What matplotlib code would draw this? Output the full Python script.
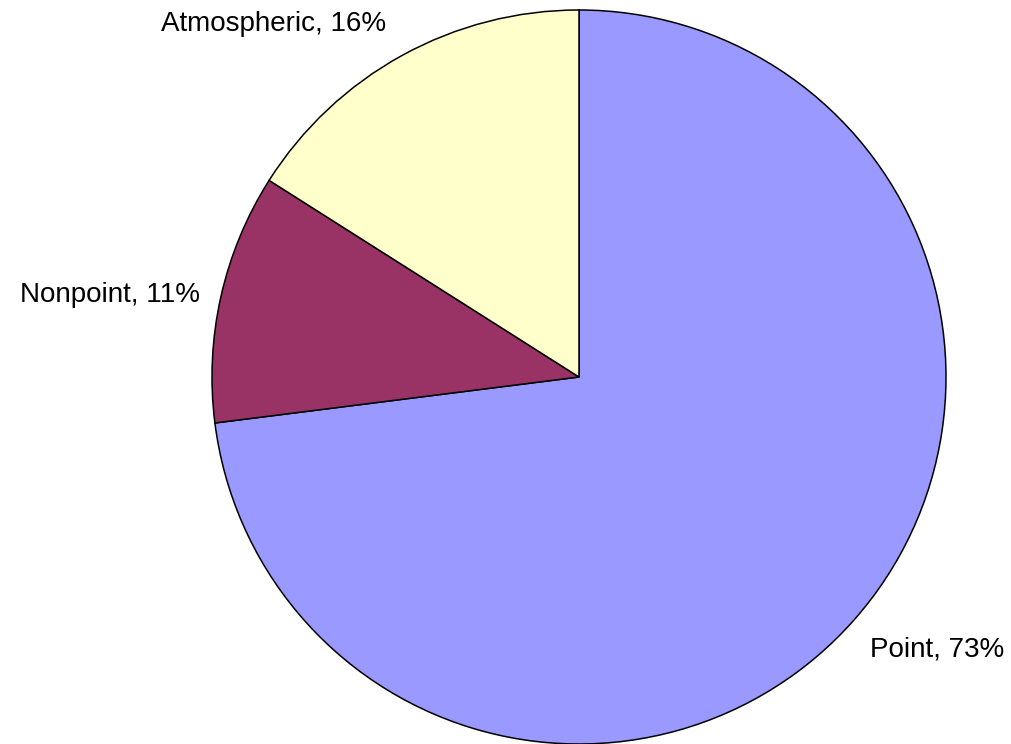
import matplotlib
matplotlib.use("Agg")
import matplotlib.pyplot as plt

# Nitrogen load by source
categories = ["Point", "Nonpoint", "Atmospheric"]
shares = [73, 11, 16]
colors = ["#9999FF", "#993366", "#FFFFCC"]

W, H = 1011, 744
fig = plt.figure(figsize=(W / 100, H / 100), dpi=100)
ax = fig.add_axes([0, 0, 1, 1])

center = (579, 367)
radius = 367
wedges, _ = ax.pie(
    shares,
    colors=colors,
    startangle=90,
    counterclock=False,
    center=center,
    radius=radius,
    wedgeprops=dict(edgecolor="black", linewidth=1.1),
    frame=True,
)
ax.set_xlim(0, W)
ax.set_ylim(0, H)
ax.set_aspect("equal")
ax.axis("off")

# label anchors (centre x, baseline y) in figure pixels
label_pos = [(937, 88), (109.5, 442), (273.5, 713)]
for name, val, (x, y) in zip(categories, shares, label_pos):
    ax.text(x, y, f"{name}, {val}%", ha="center", va="baseline",
            fontsize=20, family="Liberation Sans", color="black")

fig.savefig("out.png", dpi=100)
